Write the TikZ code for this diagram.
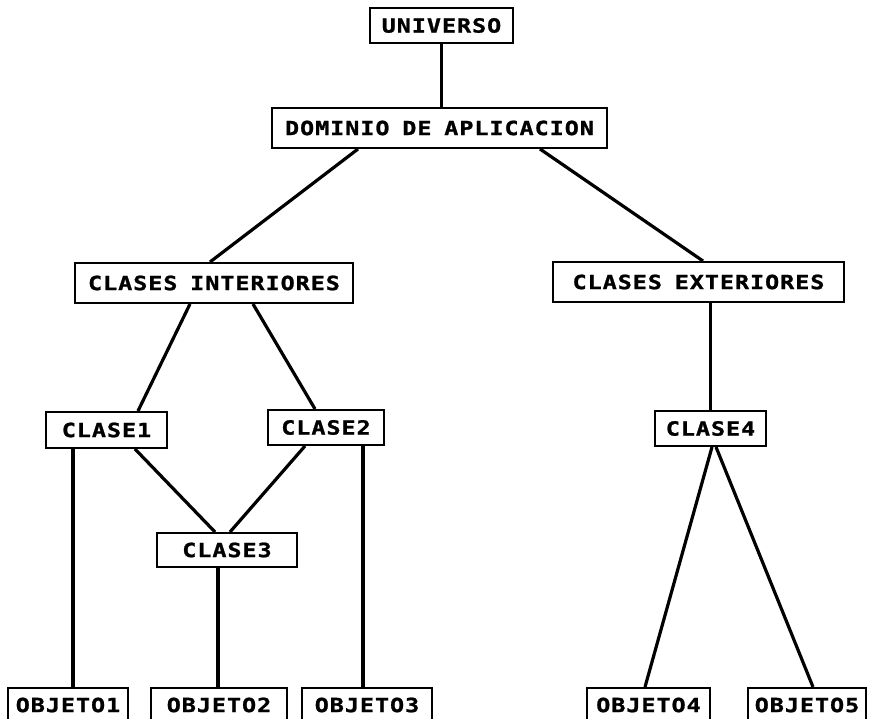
\documentclass[tikz,border=0pt]{standalone}
\usepackage{fontspec}
\newfontfamily\boxfont[LetterSpace=5,WordSpace=0.85,FakeStretch=1.2,FakeBold=1.2]{DejaVu Sans Mono Bold}
\usetikzlibrary{calc}
\tikzset{
  box/.style={draw, line width=2pt, rectangle, inner sep=0pt,
    minimum height=#1, font=\boxfont\fontsize{19.5}{22}\selectfont},
  box/.default=35pt,
  link/.style={line width=3.2pt},
}
\begin{document}
\begin{tikzpicture}[x=1pt,y=-1pt]
\useasboundingbox (0,0) rectangle (871,719);
\clip (0,0) rectangle (871,719);
% nodes of the hierarchy
\node[box, minimum width=143pt] (univ) at (441.5,25.5) {UNIVERSO};
\node[box=40pt, minimum width=335pt] (dom) at (439.5,128) {DOMINIO DE APLICACION};
\node[box=40pt, minimum width=278pt] (cint) at (214,283) {CLASES INTERIORES};
\node[box=40pt, minimum width=291pt] (cext) at (698.5,282) {CLASES EXTERIORES};
\node[box=36pt, minimum width=121pt] (c1) at (106.5,430) {CLASE1};
\node[box, minimum width=116pt] (c2) at (326,427.5) {CLASE2};
\node[box=34pt, minimum width=140pt] (c3) at (227,550) {CLASE3};
\node[box, minimum width=111pt] (c4) at (710.5,428.5) {CLASE4};
\node[box=34pt, minimum width=120pt] (o1) at (68,705) {OBJETO1};
\node[box=34pt, minimum width=136pt] (o2) at (219,705) {OBJETO2};
\node[box=34pt, minimum width=130pt] (o3) at (367,705) {OBJETO3};
\node[box=34pt, minimum width=123pt] (o4) at (648.5,705) {OBJETO4};
\node[box=34pt, minimum width=118pt] (o5) at (807,705) {OBJETO5};
% connectors
\draw[link] (univ.south) -- (univ.south |- dom.north);
\draw[link] ($(dom.south)+(-81.5,0)$) -- ($(cint.north)+(-4,0)$);
\draw[link] ($(dom.south)+(100.5,0)$) -- ($(cext.north)+(4.5,0)$);
\draw[link] ($(cint.south)+(-24,0)$) -- ($(c1.north)+(31.5,0)$);
\draw[link] ($(cint.south)+(39,0)$) -- ($(c2.north)+(-11,0)$);
\draw[link] (c4.north) -- (c4.north |- cext.south);
\draw[link] ($(c1.south)+(-33.5,0)$) -- ($(o1.north)+(5,0)$);
\draw[link] ($(c1.south)+(28.5,0)$) -- ($(c3.north)+(-12,0)$);
\draw[link] ($(c2.south)+(-21,0)$) -- ($(c3.north)+(3,0)$);
\draw[link] ($(c2.south)+(37,0)$) -- ($(o3.north)+(-4,0)$);
\draw[link] ($(c3.south)+(-9,0)$) -- ($(o2.north)+(-1,0)$);
\draw[link] ($(c4.south)+(1.5,0)$) -- ($(o4.north)+(-3.5,0)$);
\draw[link] ($(c4.south)+(5.5,0)$) -- ($(o5.north)+(6,0)$);
\end{tikzpicture}
\end{document}
